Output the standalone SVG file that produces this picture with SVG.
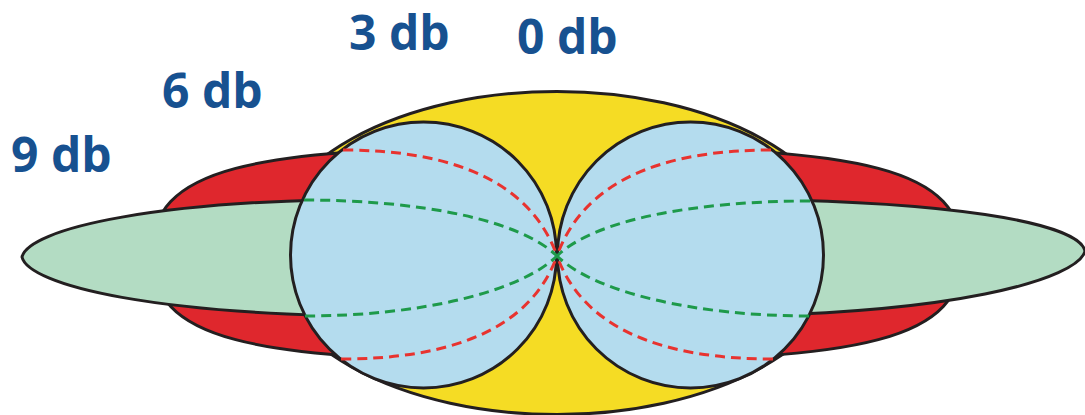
<svg xmlns="http://www.w3.org/2000/svg" width="1085" height="415" viewBox="0 0 1085 415">
<style>
.ol{stroke:#231f20;stroke-width:3;stroke-linejoin:round}
.yel{fill:#f5dc24}
.red{fill:#df272d}
.grn{fill:#b3dcc3}
.blu{fill:#b4dcee}
.dr{fill:none;stroke:#e8332f;stroke-width:3;stroke-dasharray:10 6}
.dg{fill:none;stroke:#1e9a4a;stroke-width:3;stroke-dasharray:10 6}
.lbl{font-family:"Open Sans","Liberation Sans",sans-serif;font-weight:bold;font-size:48px;fill:#175190}
</style>
<defs>
<clipPath id="clipL"><rect x="0" y="0" width="423" height="415"/></clipPath>
<clipPath id="clipR"><rect x="691" y="0" width="394" height="415"/></clipPath>
</defs>
<g id="lobe-0db">
<ellipse class="yel ol" cx="557" cy="253" rx="290" ry="161.5"/>
</g>
<g id="lobe-6db">
<path class="red ol" clip-path="url(#clipL)" d="M152,254 C152,170 240,145 557,148 L557,360 C240,363 152,338 152,254 Z"/>
<path class="red ol" clip-path="url(#clipR)" d="M962,254 C962,170 874,145 557,148 L557,360 C874,363 962,338 962,254 Z"/>
</g>
<g id="lobe-9db">
<path class="grn ol" d="M22,257 C28,230 150,197 420,199 L420,316 C150,318 28,284 22,257 Z"/>
<path class="grn ol" d="M1085,251 C1079,224 957,198 687,199 L687,316 C957,317 1079,278 1085,251 Z"/>
</g>
<g id="lobe-3db">
<circle class="blu ol" cx="423.5" cy="255" r="133"/>
<circle class="blu ol" cx="690.5" cy="255" r="133"/>
</g>
<g id="connectors">
<path class="dr" d="M343,150 C450,150 530,180 557,256"/>
<path class="dr" d="M341,359 C450,359 530,330 557,256"/>
<path class="dg" d="M304,200 C420,200 520,220 557,256"/>
<path class="dg" d="M305,316 C420,316 520,292 557,256"/>
<path class="dr" d="M771,150 C664,150 584,180 557,256"/>
<path class="dr" d="M773,359 C664,359 584,330 557,256"/>
<path class="dg" d="M810,201 C694,201 594,220 557,256"/>
<path class="dg" d="M809,316 C694,316 594,292 557,256"/>
</g>
<g id="labels">
<text class="lbl" x="11" y="172">9 db</text>
<text class="lbl" x="162" y="108">6 db</text>
<text class="lbl" x="349" y="50">3 db</text>
<text class="lbl" x="517" y="54">0 db</text>
</g>
</svg>
